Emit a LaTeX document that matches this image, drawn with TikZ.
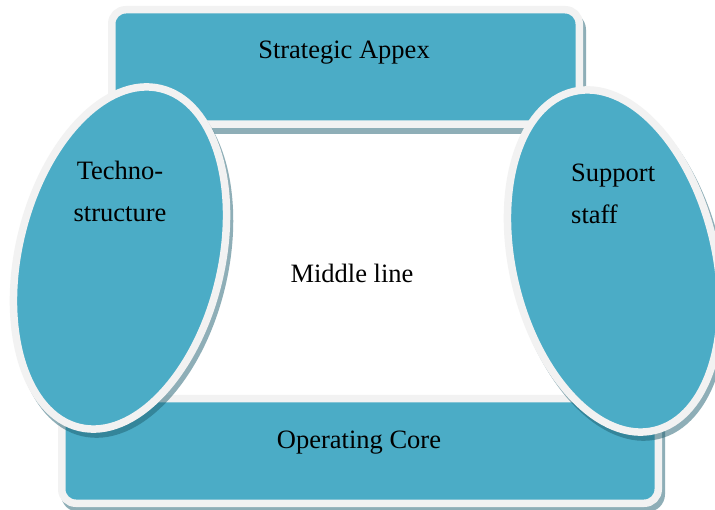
\documentclass[tikz,border=0pt]{standalone}
\usepackage{fontspec}
\setmainfont{Liberation Serif}
\usetikzlibrary{shapes.geometric}
\definecolor{aqua}{HTML}{4BACC6}
\definecolor{rim}{HTML}{F2F2F2}
\definecolor{shd}{HTML}{1F5F70}
\begin{document}
\begin{tikzpicture}[x=1pt,y=-1pt,
  boxshape/.style={rectangle, rounded corners=14pt, fill=aqua, draw=rim, line width=7.5pt, inner sep=0pt, outer sep=0pt},
  boxshadow/.style={rectangle, rounded corners=17.75pt, fill=shd, opacity=0.5, inner sep=0pt, outer sep=0pt},
  ovalshape/.style={ellipse, fill=aqua, draw=rim, line width=7.5pt, inner sep=0pt, outer sep=0pt, minimum width=202.5pt, minimum height=348.5pt},
  ovalshadow/.style={ellipse, fill=shd, opacity=0.5, inner sep=0pt, outer sep=0pt, minimum width=210pt, minimum height=356pt},
  lbl/.style={font=\fontsize{26.5}{42}\selectfont, inner sep=0pt, text=black}]
\useasboundingbox (0,0) rectangle (715,510);
\fill[white] (0,0) rectangle (715,510);
% rectangles
\node[boxshadow, minimum width=475pt, minimum height=122pt] (apexsh) at (348.5,73) {};
\node[boxshape, minimum width=467.5pt, minimum height=114.5pt] (apex) at (345.5,67) {};
\node[boxshadow, minimum width=604pt, minimum height=112pt] (coresh) at (363,456) {};
\node[boxshape, minimum width=596.5pt, minimum height=104.5pt] (core) at (360,451) {};
% ellipses
\node[ovalshadow, rotate=-13.5] (technosh) at (123,263) {};
\node[ovalshape, rotate=-13.5] (techno) at (120,258) {};
\node[ovalshadow, rotate=13.5] (supportsh) at (617,266) {};
\node[ovalshape, rotate=13.5] (support) at (614,261) {};
% labels
\node[lbl, anchor=base] (apextxt) at (344,59) {Strategic Appex};
\node[lbl, anchor=base] (coretxt) at (359,449) {Operating Core};
\node[lbl, anchor=base] (midtxt) at (352,283) {Middle line};
\node[lbl, align=center, anchor=base] (technotxt) at (120,222) {Techno-\\structure};
\node[lbl, align=left, anchor=base west] (supporttxt) at (571,224) {Support\\staff};
\end{tikzpicture}
\end{document}
